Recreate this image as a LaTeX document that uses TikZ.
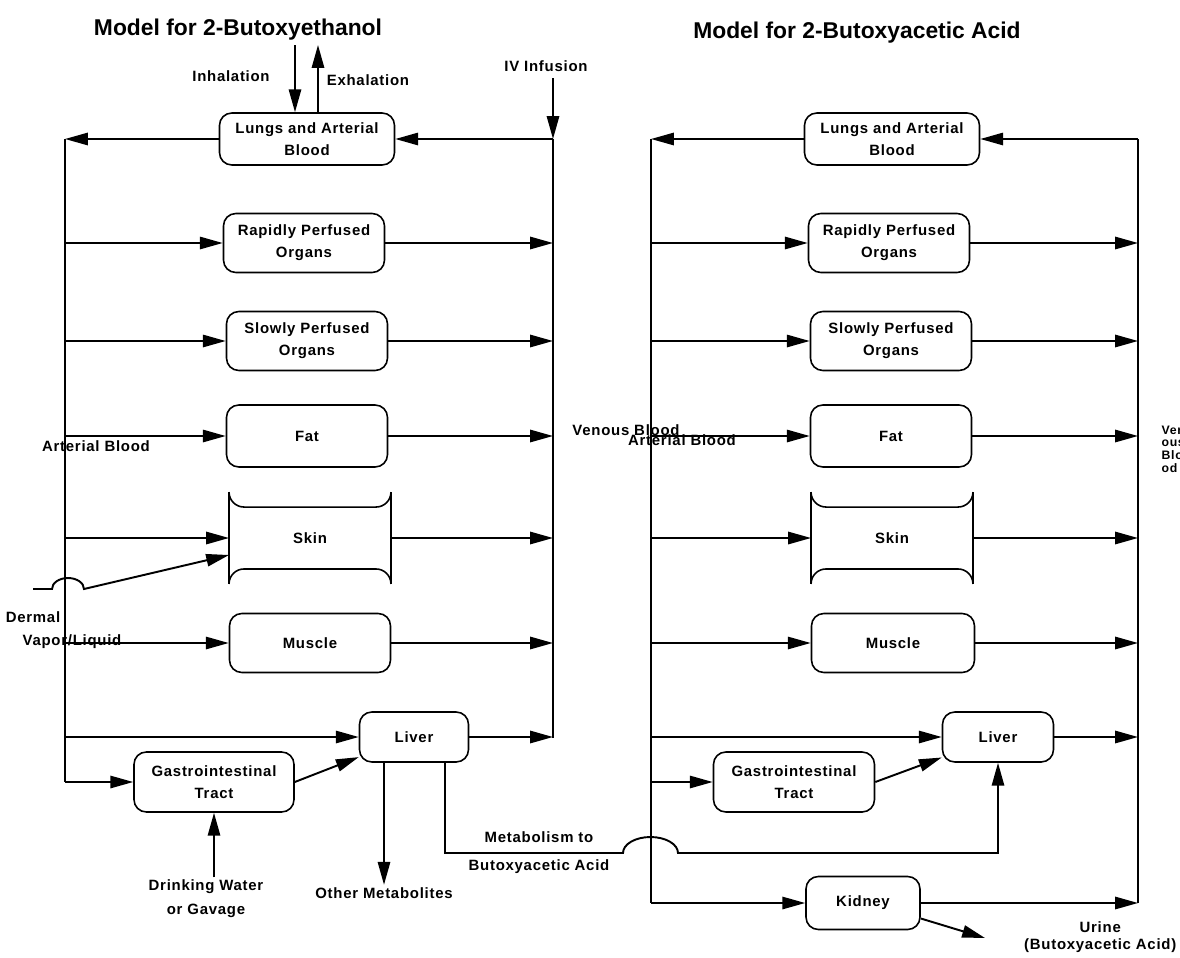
\documentclass[tikz,border=0pt]{standalone}
\usepackage{fontspec}
\newfontfamily\lblfont{Liberation Sans}[LetterSpace=5]
\newfontfamily\ttlfont{Liberation Sans}
\usetikzlibrary{calc, arrows.meta}

\begin{document}
\begin{tikzpicture}[x=0.02cm, y=-0.02cm,
  every node/.style={font=\lblfont\fontsize{8.5}{12.5}\selectfont\bfseries, align=center, inner sep=1pt},
  every path/.style={line width=1.1pt},
  organ/.style={draw, line width=0.9pt, rounded corners=7pt, minimum width=3.22cm, minimum height=1.18cm},
  skinbox/.style={minimum width=3.2cm, minimum height=1.8cm},
  flow/.style={-{Triangle[length=13pt, width=7pt]}},
  ttl/.style={font=\ttlfont\fontsize{13}{15}\selectfont\bfseries}]
  \useasboundingbox (0,0) rectangle (1180,957);

  \node[ttl] (ttlL) at (238,30) {Model for 2-Butoxyethanol};
  \node[ttl] (ttlR) at (857,33) {Model for 2-Butoxyacetic Acid};

  % 2-butoxyethanol
  \node[organ, minimum width=3.5cm, minimum height=1.04cm] (lungsL) at (307,139) {Lungs and Arterial\\Blood};
  \node[organ] (rapidL) at (304,243) {Rapidly Perfused\\Organs};
  \node[organ] (slowL) at (307,341) {Slowly Perfused\\Organs};
  \node[organ, minimum height=1.24cm] (fatL) at (307,436) {Fat};
  \node[skinbox] (skinL) at (310,538) {Skin};
  \node[organ] (muscleL) at (310,643) {Muscle};
  \node[organ, minimum width=2.18cm, minimum height=1cm] (liverL) at (414,737) {Liver};
  \node[organ, minimum width=3.2cm, minimum height=1.2cm] (giL) at (214,782) {Gastrointestinal\\Tract};

  \node (inhL) at (231,76) {Inhalation};
  \node (exhL) at (368,80) {Exhalation};
  \node (ivL) at (546,66) {IV Infusion};
  \node (artLlbl) at (96,446) {Arterial Blood};
  \node (venLlbl) at (626,430) {Venous Blood};
  \node (dermL) at (33,617) {Dermal};
  \node (vapL) at (72,642) {Vapor/Liquid};
  \node (drinkL) at (206,899) {Drinking Water\\[1pt]or Gavage};
  \node (othL) at (384,893) {Other Metabolites};
  \node (metabL) at (539,853) {Metabolism to\\[3.5pt]Butoxyacetic Acid};

  \coordinate (artLtop) at (65,139);
  \coordinate (artLbot) at (65,782);
  \coordinate (venLtop) at (553,139);
  \coordinate (venLbot) at (553,738);
  \coordinate (ivTop) at (553,78);
  \coordinate (inhTop) at (295,45);
  \coordinate (exhTop) at (318,45);
  \coordinate (dermA) at (33,589);
  \coordinate (hopA) at (623,853);

  \draw (artLtop) -- (artLbot);
  \draw (venLtop) -- (venLbot);
  \draw[flow] (ivTop) -- (venLtop);
  \draw[flow] (venLtop) -- (lungsL);
  \draw[flow] (lungsL) -- (artLtop);
  \draw[flow] (inhTop) -- (inhTop |- lungsL.north);
  \draw[flow] (exhTop |- lungsL.north) -- (exhTop);
  \foreach \n in {rapidL,slowL,fatL,skinL,muscleL,liverL} {
    \draw[flow] (artLtop |- \n) -- (\n);
    \draw[flow] (\n) -- (venLtop |- \n);
  }
  \draw[flow] (artLbot) -- (giL);
  \draw[flow] (giL.east) -- (liverL.200);
  \draw[flow] (giL.south |- drinkL.north) -- (giL.south);
  \draw[flow] (liverL.south -| othL) -- (othL.north);
  \draw[flow] (dermA) -- ++(19,0) arc[start angle=180, end angle=0, x radius=0.32cm, y radius=0.22cm] -- ([yshift=-0.34cm]skinL.west);

  % 2-butoxyacetic acid
  \node[organ, minimum width=3.5cm, minimum height=1.04cm] (lungsR) at (892,139) {Lungs and Arterial\\Blood};
  \node[organ] (rapidR) at (889,243) {Rapidly Perfused\\Organs};
  \node[organ] (slowR) at (891,341) {Slowly Perfused\\Organs};
  \node[organ, minimum height=1.24cm] (fatR) at (891,436) {Fat};
  \node[skinbox] (skinR) at (892,538) {Skin};
  \node[organ, minimum width=3.26cm] (muscleR) at (893,643) {Muscle};
  \node[organ, minimum width=2.22cm, minimum height=1cm] (liverR) at (998,737) {Liver};
  \node[organ, minimum width=3.22cm, minimum height=1.2cm] (giR) at (794,782) {Gastrointestinal\\Tract};
  \node[organ, minimum width=2.28cm, minimum height=1.06cm] (kidneyR) at (863,903) {Kidney};

  \node (artRlbl) at (682,440) {Arterial Blood};
  \node[font=\lblfont\fontsize{7}{7.2}\selectfont\bfseries, align=left, anchor=west] (venRlbl) at (1159,449) {Ven\\ous\\Blo\\od};
  \node[anchor=east] (urineR) at (1179,937) {Urine\\[-2.5pt](Butoxyacetic Acid)};

  \coordinate (artRtop) at (651,139);
  \coordinate (artRbot) at (651,903);
  \coordinate (venRtop) at (1138,139);
  \coordinate (venRbot) at (1138,903);
  \coordinate (urineEnd) at (985,938);

  \draw (artRtop) -- (artRbot);
  \draw (venRtop) -- (venRbot);
  \draw[flow] (venRtop) -- (lungsR);
  \draw[flow] (lungsR) -- (artRtop);
  \foreach \n in {rapidR,slowR,fatR,skinR,muscleR,liverR,kidneyR} {
    \draw[flow] (artRtop |- \n) -- (\n);
    \draw[flow] (\n) -- (venRtop |- \n);
  }
  \draw[flow] (artRtop |- giR) -- (giR);
  \draw[flow] (giR.east) -- (liverR.200);
  \draw[flow] (kidneyR.-15) -- (urineEnd);

  \draw[flow] ([xshift=0.62cm]liverL.south) |- (hopA) arc[start angle=180, end angle=0, x radius=0.55cm, y radius=0.32cm] -- (liverR.south |- hopA) -- (liverR.south);

  \foreach \s in {skinL,skinR} {
    \draw[line width=0.9pt] (\s.north west) -- (\s.south west);
    \draw[line width=0.9pt] (\s.north east) -- (\s.south east);
    \draw[line width=0.9pt] (\s.north west) arc[start angle=180, end angle=270, radius=0.3cm] -- ([xshift=-0.3cm, yshift=-0.3cm]\s.north east) arc[start angle=270, end angle=360, radius=0.3cm];
    \draw[line width=0.9pt] (\s.south west) arc[start angle=180, end angle=90, radius=0.3cm] -- ([xshift=-0.3cm, yshift=0.3cm]\s.south east) arc[start angle=90, end angle=0, radius=0.3cm];
  }
\end{tikzpicture}
\end{document}
